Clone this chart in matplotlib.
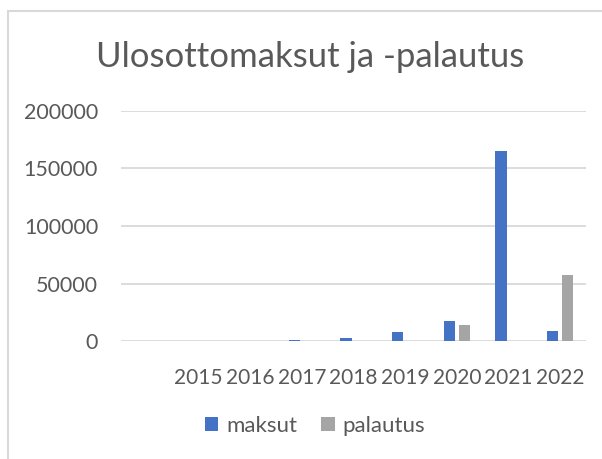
import matplotlib
matplotlib.use("Agg")
import matplotlib.pyplot as plt
import numpy as np

categories = ["", "2015", "2016", "2017", "2018", "2019", "2020", "2021", "2022"]
maksut = [0, 0, 0, 1500, 3200, 8100, 17600, 165000, 8700]
palautus = [0, 0, 0, 0, 0, 0, 13900, 0, 57500]
yticks = [0, 50000, 100000, 150000, 200000]

plt.rcParams['font.family'] = ['Lato', 'DejaVu Sans']
txt = '#595959'
grid = '#D9D9D9'

fig = plt.figure(figsize=(6.02, 4.59), dpi=100)
ax = fig.add_axes([121/602, 1 - 341.3/459, (586 - 121)/602, (341.3 - 110.7)/459])

x = np.arange(len(categories))
w = 0.215
off = 0.145
ax.bar(x - off, maksut, w, color='#4472C4', label='maksut', zorder=3)
ax.bar(x + off, palautus, w, color='#A5A5A5', label='palautus', zorder=3)

ax.set_xlim(-0.5, len(categories) - 0.5)
ax.set_ylim(0, 200000)
ax.set_yticks(yticks)
ax.set_yticklabels([str(v) for v in yticks])
ax.set_xticks(x)
ax.set_xticklabels(categories)
ax.tick_params(axis='both', length=0, colors=txt)
ax.tick_params(axis='y', pad=16.5, labelsize=15.5)
ax.tick_params(axis='x', pad=19, labelsize=15)
ax.yaxis.grid(True, color=grid, linewidth=1.3, zorder=0)
for s in ax.spines.values():
    s.set_visible(False)

fig.text(310/602, 1 - 57/459, 'Ulosottomaksut ja -palautus', ha='center', va='center',
         fontsize=25, color=txt)

leg = fig.legend(loc='center', bbox_to_anchor=(315/602, 1 - 426/459), ncol=2, frameon=False,
                 fontsize=16, handlelength=0.6, handleheight=0.6, handletextpad=0.35,
                 columnspacing=1.1, labelcolor=txt)

# chart area border (left and top visible)
fig.add_artist(plt.Line2D([7.5/602, 7.5/602], [0, 1 - 10.5/459], transform=fig.transFigure,
                          color=grid, linewidth=1.5))
fig.add_artist(plt.Line2D([7.5/602, 1], [1 - 10.5/459, 1 - 10.5/459], transform=fig.transFigure,
                          color=grid, linewidth=1.5))

fig.savefig('out.png', dpi=100)
